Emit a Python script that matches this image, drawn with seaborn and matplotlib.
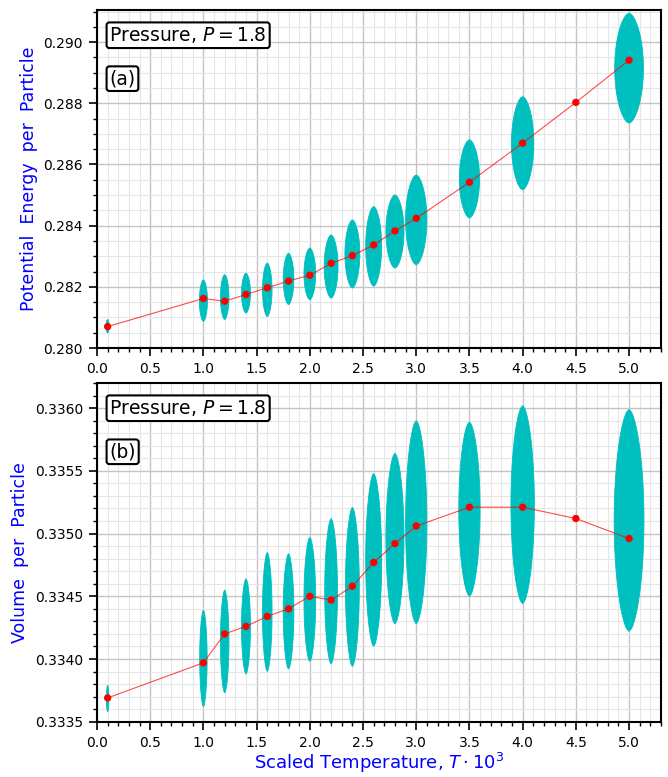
import numpy as np
import pandas as pd
import matplotlib
matplotlib.use("Agg")
import matplotlib.pyplot as plt
from matplotlib.ticker import MultipleLocator, FormatStrFormatter
import seaborn as sns

# ---- data ----
temps = [0.1, 1.0, 1.2, 1.4, 1.6, 1.8, 2.0, 2.2, 2.4, 2.6, 2.8, 3.0, 3.5, 4.0, 4.5, 5.0]
energy = [0.28070, 0.28162, 0.28153, 0.28175, 0.28197, 0.28219, 0.28238, 0.28277,
          0.28302, 0.28337, 0.28383, 0.28424, 0.28542, 0.28670, 0.28803, 0.28941]
volume = [0.33369, 0.33397, 0.33420, 0.33426, 0.33434, 0.33440, 0.33450, 0.33447,
          0.33458, 0.33477, 0.33492, 0.33506, 0.33521, 0.33521, 0.33512, 0.33496]

# fluctuation clouds (temperatures with sampled trajectories)
cloud_T = [0.1, 1.0, 1.2, 1.4, 1.6, 1.8, 2.0, 2.2, 2.4, 2.6, 2.8, 3.0, 3.5, 4.0, 5.0]
e_lo = [0.28049, 0.28087, 0.28093, 0.28114, 0.28103, 0.28142, 0.28158, 0.28163,
        0.28196, 0.28202, 0.28261, 0.28272, 0.28425, 0.28517, 0.28735]
e_hi = [0.28093, 0.28223, 0.28240, 0.28245, 0.28278, 0.28310, 0.28327, 0.28370,
        0.28419, 0.28463, 0.28501, 0.28566, 0.28681, 0.28822, 0.29095]
e_w = [0.015, 0.038, 0.040, 0.042, 0.045, 0.050, 0.055, 0.065,
       0.070, 0.075, 0.085, 0.100, 0.095, 0.105, 0.135]
v_lo = [0.33358, 0.33362, 0.33373, 0.33388, 0.33390, 0.33392, 0.33398, 0.33396,
        0.33394, 0.33410, 0.33428, 0.33428, 0.33450, 0.33444, 0.33422]
v_hi = [0.33379, 0.33439, 0.33455, 0.33464, 0.33485, 0.33484, 0.33497, 0.33512,
        0.33521, 0.33548, 0.33564, 0.33590, 0.33589, 0.33602, 0.33599]
v_w = [0.012, 0.035, 0.040, 0.042, 0.045, 0.050, 0.055, 0.060,
       0.065, 0.075, 0.085, 0.100, 0.100, 0.110, 0.140]

df = pd.DataFrame({"T": temps, "E": energy, "V": volume})

sns.set_theme(style="white")
plt.rcParams["font.family"] = ["DejaVu Sans"]
plt.rcParams["mathtext.fontset"] = "dejavusans"
plt.rcParams["text.color"] = "black"
plt.rcParams["xtick.color"] = "black"
plt.rcParams["ytick.color"] = "black"

fig = plt.figure(figsize=(6.68, 7.77), dpi=100)
ax1 = fig.add_axes([0.1452, 0.5521, 0.8443, 0.4350])
ax2 = fig.add_axes([0.1452, 0.0711, 0.8443, 0.4360])

CYAN = (0.0, 0.75, 0.75)


def draw_clouds(ax, lo, hi, w):
    u = np.linspace(-1, 1, 81)
    prof = (1 - u ** 2) ** 0.6
    for t, a, b, ww in zip(cloud_T, lo, hi, w):
        c = 0.5 * (a + b)
        h = 0.5 * (b - a)
        xs = np.concatenate([t + ww * prof, (t - ww * prof)[::-1]])
        ys = np.concatenate([c + h * u, (c + h * u)[::-1]])
        ax.fill(xs, ys, color=CYAN, lw=0.6, ec=CYAN, zorder=2)


def style(ax, ylim, ymaj, ymin, ylabel, tag):
    ax.set_xlim(0, 5.3)
    ax.set_ylim(*ylim)
    ax.xaxis.set_major_locator(MultipleLocator(0.5))
    ax.xaxis.set_minor_locator(MultipleLocator(0.1))
    ax.yaxis.set_major_locator(MultipleLocator(ymaj))
    ax.yaxis.set_minor_locator(MultipleLocator(ymin))
    ax.grid(which="major", color="#c4c4c4", lw=1.0, zorder=0)
    ax.grid(which="minor", color="#e6e6e6", lw=0.8, zorder=0)
    ax.set_axisbelow(True)
    for s in ax.spines.values():
        s.set_color("black")
        s.set_linewidth(1.5)
    ax.tick_params(which="major", direction="out", length=6, width=1.2,
                   labelsize=10, colors="black", bottom=True, left=True,
                   top=False, right=False, pad=4)
    ax.tick_params(which="minor", direction="out", length=3, width=1.0,
                   bottom=True, left=True, top=False, right=False)
    ax.set_ylabel(ylabel, color="blue", fontsize=12.5)
    ax.set_xlabel("")
    bbox = dict(boxstyle="round,pad=0.15,rounding_size=0.15", fc="white", ec="black", lw=1.5)
    ax.text(0.022, 0.955, r"Pressure, $P = 1.8$", transform=ax.transAxes,
            fontsize=13.5, va="top", ha="left", bbox=bbox, zorder=5, color="black")
    ax.text(0.022, 0.825, tag, transform=ax.transAxes,
            fontsize=13.5, va="top", ha="left", bbox=bbox, zorder=5, color="black")


draw_clouds(ax1, e_lo, e_hi, e_w)
sns.lineplot(data=df, x="T", y="E", ax=ax1, color="red", lw=0.8, alpha=0.7,
             zorder=3, legend=False)
sns.scatterplot(data=df, x="T", y="E", ax=ax1, color="red", s=28, ec="none",
                zorder=4, legend=False)
style(ax1, (0.280, 0.29105), 0.002, 0.0005,
      "Potential  Energy  per  Particle", "(a)")
ax1.yaxis.set_major_formatter(FormatStrFormatter("%.3f"))

draw_clouds(ax2, v_lo, v_hi, v_w)
sns.lineplot(data=df, x="T", y="V", ax=ax2, color="red", lw=0.8, alpha=0.7,
             zorder=3, legend=False)
sns.scatterplot(data=df, x="T", y="V", ax=ax2, color="red", s=28, ec="none",
                zorder=4, legend=False)
style(ax2, (0.3335, 0.33620), 0.0005, 0.0001, "Volume  per  Particle", "(b)")
ax2.yaxis.set_major_formatter(FormatStrFormatter("%.4f"))
ax2.set_xlabel(r"Scaled Temperature, $T \cdot 10^3$", color="blue", fontsize=13,
               labelpad=1)

fig.savefig("out.png", dpi=100)
